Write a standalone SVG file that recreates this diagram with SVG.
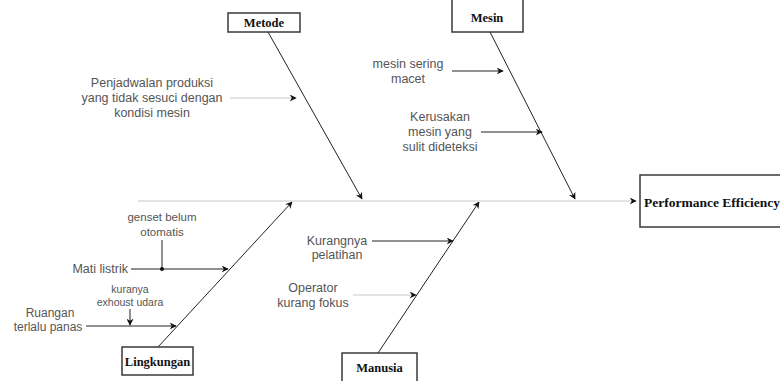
<svg xmlns="http://www.w3.org/2000/svg" width="780" height="381" viewBox="0 0 780 381">
<style>
.box{fill:#fff;stroke:#3a3a3a;stroke-width:1.5}
.lbl{font-family:"Liberation Serif",serif;font-weight:bold;font-size:12.5px;fill:#111;text-anchor:middle}
.t{font-family:"Liberation Sans",Arial,sans-serif;font-size:12.5px;fill:#555;text-anchor:middle}
.ts{font-family:"Liberation Sans",Arial,sans-serif;font-size:11.5px;fill:#555;text-anchor:middle}
.dk{stroke:#222;stroke-width:1;fill:none;marker-end:url(#ah)}
.lt{stroke:#c8c8c8;stroke-width:1;fill:none;marker-end:url(#ah)}
</style>
<defs>
<marker id="ah" viewBox="0 0 10 10" refX="9" refY="5" markerWidth="7" markerHeight="7" markerUnits="userSpaceOnUse" orient="auto">
<path d="M0,0 L10,5 L0,10 L3,5 Z" fill="#111"/>
</marker>
</defs>
<g id="connectors">
<line class="lt" x1="138" y1="201" x2="636" y2="201"/>
<line class="dk" x1="268" y1="32" x2="362" y2="199"/>
<line class="dk" x1="490" y1="32" x2="575" y2="199"/>
<line class="dk" x1="158" y1="347" x2="292" y2="202"/>
<line class="dk" x1="378" y1="353" x2="479" y2="202"/>
<line class="lt" x1="230" y1="98" x2="296" y2="98"/>
<line class="dk" x1="452" y1="71" x2="503" y2="71"/>
<line class="dk" x1="481" y1="132" x2="542" y2="132"/>
<line class="dk" x1="372" y1="241" x2="453" y2="241"/>
<line class="lt" x1="353" y1="295" x2="416" y2="295"/>
<line class="dk" x1="131" y1="269" x2="228" y2="269"/>
<line x1="162" y1="240" x2="162" y2="269" stroke="#222" stroke-width="1"/>
<circle cx="162" cy="269" r="2" fill="#111"/>
<line class="dk" x1="86" y1="326" x2="176" y2="326"/>
<line class="dk" x1="130" y1="309" x2="130" y2="325"/>
</g>
<g id="metode"><rect class="box" x="228" y="13" width="72" height="19"/><text class="lbl" x="264" y="26.5">Metode</text></g>
<g id="mesin"><rect class="box" x="452" y="-2" width="71" height="34"/><text class="lbl" x="487" y="22">Mesin</text></g>
<g id="lingkungan"><rect class="box" x="122" y="347" width="71" height="28"/><text class="lbl" x="157.5" y="366">Lingkungan</text></g>
<g id="manusia"><rect class="box" x="342" y="353" width="75" height="29"/><text class="lbl" x="379.5" y="372">Manusia</text></g>
<g id="performance"><rect class="box" x="640" y="175" width="142" height="52"/><text class="lbl" x="644" y="207" style="text-anchor:start;font-size:13.5px">Performance Efficiency</text></g>
<g id="penjadwalan"><text class="t" x="152" y="87">Penjadwalan produksi</text><text class="t" x="152" y="102">yang tidak sesuci dengan</text><text class="t" x="152" y="117">kondisi mesin</text></g>
<g id="mesin-macet"><text class="t" x="408" y="68">mesin sering</text><text class="t" x="408" y="83">macet</text></g>
<g id="kerusakan"><text class="t" x="440" y="121">Kerusakan</text><text class="t" x="440" y="136">mesin yang</text><text class="t" x="440" y="151">sulit dideteksi</text></g>
<g id="kurangnya"><text class="t" x="337" y="245">Kurangnya</text><text class="t" x="337" y="259">pelatihan</text></g>
<g id="operator"><text class="t" x="313" y="292">Operator</text><text class="t" x="313" y="307">kurang fokus</text></g>
<g id="genset"><text class="ts" x="162" y="221">genset belum</text><text class="ts" x="162" y="236">otomatis</text></g>
<g id="mati-listrik"><text class="t" x="128" y="273" style="text-anchor:end">Mati listrik</text></g>
<g id="exhoust"><text class="ts" x="130" y="293" style="font-size:10.5px">kuranya</text><text class="ts" x="130" y="306" style="font-size:10.5px">exhoust udara</text></g>
<g id="ruangan"><text class="t" x="50" y="317" style="font-size:12px">Ruangan</text><text class="t" x="48" y="331" style="font-size:12px">terlalu panas</text></g>
</svg>
